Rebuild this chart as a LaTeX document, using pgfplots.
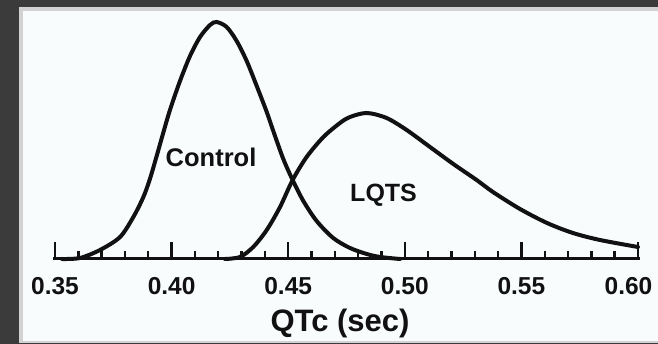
\documentclass[border=0pt]{standalone}
\usepackage{fontspec}
\setmainfont{Liberation Sans}
\usepackage{pgfplots}
\pgfplotsset{compat=1.18}
\definecolor{bgdark}{HTML}{3B3B3B}
\definecolor{panelborder}{HTML}{D2D2D2}
\definecolor{panel}{HTML}{F9FCFD}
\definecolor{ink}{HTML}{111111}
\begin{document}
\begin{tikzpicture}
\useasboundingbox (0pt,0pt) rectangle (658pt,344pt);
\fill[bgdark] (0pt,0pt) rectangle (658pt,344pt);
\fill[panelborder] (19pt,1pt) rectangle (658pt,337pt);
\fill[panel] (23pt,3pt) rectangle (658pt,333pt);
\begin{axis}[
  at={(55pt,85pt)}, anchor=origin,
  scale only axis, width=583pt, height=250pt,
  xmin=0.35, xmax=0.60, ymin=0, ymax=250,
  enlargelimits=false, clip=false,
  axis x line*=bottom, hide y axis,
  axis line style={ink, line width=3pt, line cap=rect},
  xtick={0.35,0.40,0.45,0.50,0.55,0.60},
  xticklabels={0.35,0.40,0.45,0.50,0.55,{0.60\rule{19pt}{0pt}}},
  minor x tick num=4,
  tick align=inside,
  major tick length=17pt, minor tick length=8pt,
  every tick/.style={ink, line width=2.4pt},
  xticklabel style={font=\fontsize{24.5}{28}\selectfont\bfseries, anchor=base, yshift=-36pt, text=ink},
  xlabel={QTc (sec)},
  xlabel style={font=\fontsize{31}{36}\selectfont\bfseries, at={(axis description cs:0.4889,0)}, anchor=base, yshift=-73pt, text=ink},
]
% Control
\addplot[ink, line width=4pt, smooth, line cap=round] coordinates {
(0.353,0) (0.3607,1) (0.3693,9) (0.3779,22) (0.3836,42) (0.3879,62)
(0.3907,80) (0.3936,103) (0.3964,126) (0.3993,149) (0.4036,178)
(0.4079,203) (0.4122,222) (0.4165,234) (0.4193,237) (0.4236,232)
(0.4279,218) (0.4322,198) (0.4365,173) (0.4408,147) (0.4436,128)
(0.4479,100) (0.4519,79) (0.4565,58) (0.4622,38) (0.4693,21)
(0.4765,11) (0.4837,5) (0.4894,2) (0.498,0)
};
% LQTS
\addplot[ink, line width=4pt, smooth, line cap=round] coordinates {
(0.4229,0) (0.4293,2) (0.435,12) (0.4408,29) (0.4465,52) (0.4519,79)
(0.4579,102) (0.4651,122) (0.4722,136) (0.4765,142) (0.4837,146)
(0.4922,141) (0.5008,129) (0.5108,112) (0.5208,95) (0.5308,79)
(0.5378,67) (0.5494,50) (0.561,36) (0.5721,26) (0.5837,19) (0.600,12)
};
\node[font=\fontsize{25.5}{30}\selectfont\bfseries, text=ink, anchor=base] at (axis cs:0.4169,92) {Control};
\node[font=\fontsize{25}{30}\selectfont\bfseries, text=ink, anchor=base] at (axis cs:0.4909,57) {LQTS};
\end{axis}
\end{tikzpicture}
\end{document}
